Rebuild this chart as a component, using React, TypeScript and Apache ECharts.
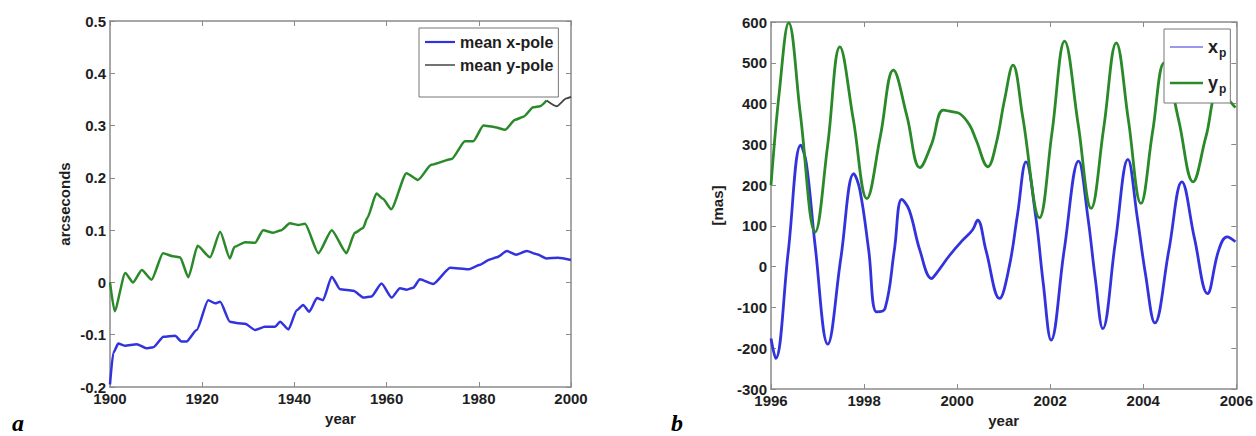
import React, { useEffect, useRef } from "react";
import * as echarts from "echarts";

// ---- Panel a: mean pole 1900-2000 (arcseconds) ----
const xPoleYears = [1900, 1900.7, 1901.8, 1903.2, 1905.8, 1907.9, 1909.4, 1911.6, 1914.1, 1915.5, 1916.6, 1918.8, 1921.3, 1922.8, 1923.9, 1926, 1927.8, 1929.3, 1931.5, 1933.6, 1935.8, 1936.9, 1938.7, 1940.5, 1941.9, 1943.2, 1944.9, 1946.2, 1948.1, 1949.9, 1952.8, 1955, 1956.7, 1958.9, 1961.1, 1962.9, 1964.4, 1965.8, 1967.2, 1970.1, 1973.8, 1977.7, 1980.3, 1982.4, 1983.9, 1986.1, 1988.1, 1990.4, 1992.6, 1994.7, 1997.2, 2000];
const xPoleValues = [-0.195, -0.135, -0.117, -0.121, -0.118, -0.126, -0.124, -0.104, -0.102, -0.113, -0.113, -0.091, -0.034, -0.04, -0.037, -0.075, -0.078, -0.079, -0.091, -0.085, -0.085, -0.075, -0.09, -0.053, -0.043, -0.056, -0.03, -0.034, 0.011, -0.013, -0.016, -0.029, -0.027, -0.002, -0.029, -0.011, -0.014, -0.01, 0.006, -0.003, 0.028, 0.025, 0.034, 0.044, 0.048, 0.06, 0.053, 0.06, 0.054, 0.046, 0.047, 0.043];

const yPoleYears = [1900, 1901, 1903.3, 1905, 1906.9, 1909, 1911.5, 1913.7, 1915.2, 1917, 1919, 1921.7, 1923.9, 1926, 1927, 1929.3, 1931.5, 1933.2, 1935.4, 1937.2, 1939, 1940.8, 1942.3, 1945.2, 1948.1, 1951.3, 1953.1, 1954.9, 1955.8, 1957.8, 1959.2, 1961, 1964.3, 1966.8, 1969.7, 1974.1, 1977, 1978.8, 1981, 1983.5, 1985.7, 1987.9, 1989.7, 1991.8, 1993.3, 1994.7];
const yPoleValues = [0.0, -0.055, 0.018, 0.0, 0.024, 0.005, 0.056, 0.05, 0.048, 0.01, 0.07, 0.048, 0.097, 0.046, 0.068, 0.077, 0.076, 0.1, 0.095, 0.1, 0.113, 0.11, 0.112, 0.056, 0.1, 0.056, 0.095, 0.104, 0.123, 0.17, 0.16, 0.14, 0.209, 0.196, 0.225, 0.236, 0.27, 0.27, 0.3, 0.297, 0.292, 0.311, 0.317, 0.335, 0.337, 0.348];
const yPoleTailYears = [1994.7, 1996.9, 1999, 2000];
const yPoleTailValues = [0.348, 0.337, 0.352, 0.355];

// ---- Panel b: polar motion 1996-2006 (mas) ----
const xpYears = [1996.0, 1996.1, 1996.37, 1996.64, 1996.76, 1996.95, 1997.22, 1997.5, 1997.78, 1997.91, 1998.1, 1998.27, 1998.45, 1998.65, 1998.81, 1998.97, 1999.2, 1999.45, 1999.55, 1999.84, 2000.12, 2000.33, 2000.44, 2000.62, 2000.91, 2001.12, 2001.3, 2001.48, 2001.69, 2001.85, 2002.02, 2002.3, 2002.61, 2002.81, 2002.97, 2003.13, 2003.4, 2003.67, 2003.87, 2004.05, 2004.25, 2004.55, 2004.83, 2005.1, 2005.38, 2005.62, 2005.8, 2005.98];
const xpValues = [-176, -225, 36, 298, 253, 50, -190, 20, 228, 188, 40, -111, -103, 40, 165, 139, 40, -29, -17, 28, 65, 90, 114, 40, -78, 0, 130, 257, 122, -40, -180, 40, 259, 121, -30, -152, 60, 263, 122, -20, -138, 40, 208, 70, -66, 40, 73, 61];

const ypYears = [1996.0, 1996.18, 1996.38, 1996.63, 1996.95, 1997.22, 1997.48, 1997.77, 1998.06, 1998.35, 1998.63, 1998.92, 1999.2, 1999.45, 1999.7, 1999.88, 2000.06, 2000.27, 2000.41, 2000.66, 2000.84, 2001.02, 2001.2, 2001.41, 2001.77, 2002.04, 2002.31, 2002.6, 2002.88, 2003.15, 2003.42, 2003.68, 2003.95, 2004.2, 2004.45, 2004.76, 2005.07, 2005.35, 2005.62, 2005.98];
const ypValues = [200, 430, 598, 375, 85, 300, 539, 360, 167, 320, 482, 370, 243, 300, 384, 380, 375, 347, 310, 245, 302, 410, 494, 367, 120, 330, 553, 350, 143, 340, 549, 360, 155, 330, 500, 360, 208, 320, 428, 390];

const zip = (xs: number[], ys: number[]) => xs.map((x, i) => [x, ys[i]]);

const BLUE = "#3333dd";
const GREEN = "#2a8a2a";
const AXIS = "#8a8a8a";
const TXT = "#1e1e1e";
const FONT = "'Liberation Sans', Arial, Helvetica, sans-serif";

const lineIcon = (w: number, h: number) => `path://M0,0H${w}V${h}H0Z`;

export default function App() {
  const ref = useRef<HTMLDivElement>(null);
  useEffect(() => {
    document.body.style.margin = "0";
    const chart = echarts.init(ref.current!, null, { renderer: "svg" });
    const label = { color: TXT, fontFamily: FONT, fontWeight: "bold" as const, fontSize: 15 };
    const baseAxis = (gi: number, min: number, max: number, interval: number) => ({
      type: "value", gridIndex: gi, min, max, interval,
      axisLine: { show: true, onZero: false, lineStyle: { color: AXIS, width: 1.5 } },
      axisTick: { show: true, inside: true, length: 5, lineStyle: { color: AXIS } },
      splitLine: { show: false },
    });
    const fmtYear = (v: number) => String(Math.round(v));
    const option: any = {
      animation: false,
      backgroundColor: "#ffffff",
      grid: [
        { left: 110, top: 21, width: 461, height: 366 },
        { left: 771, top: 22, width: 466, height: 367 },
      ],
      xAxis: [
        { ...baseAxis(0, 1900, 2000, 20), position: "bottom", name: "year", nameLocation: "middle", nameGap: 22,
          nameTextStyle: { ...label }, axisLabel: { ...label, margin: 4, formatter: fmtYear } },
        { ...baseAxis(0, 1900, 2000, 20), position: "top", axisLabel: { show: false } },
        { ...baseAxis(1, 1996, 2006, 2), position: "bottom", name: "year", nameLocation: "middle", nameGap: 22,
          nameTextStyle: { ...label }, axisLabel: { ...label, margin: 4, formatter: fmtYear } },
        { ...baseAxis(1, 1996, 2006, 2), position: "top", axisLabel: { show: false } },
      ],
      yAxis: [
        { ...baseAxis(0, -0.2, 0.5, 0.1), position: "left", name: "arcseconds", nameLocation: "middle", nameGap: 38,
          nameTextStyle: { ...label },
          axisLabel: { ...label, margin: 4, formatter: (v: number) => String(Math.round(v * 10) / 10) } },
        { ...baseAxis(0, -0.2, 0.5, 0.1), position: "right", axisLabel: { show: false } },
        { ...baseAxis(1, -300, 600, 100), position: "left", name: "[mas]", nameLocation: "middle", nameGap: 46,
          nameTextStyle: { ...label }, axisLabel: { ...label, margin: 4, formatter: (v: number) => String(v) } },
        { ...baseAxis(1, -300, 600, 100), position: "right", axisLabel: { show: false } },
      ],
      legend: [
        {
          left: 419, top: 28, orient: "vertical",
          backgroundColor: "#fff", borderColor: "#777", borderWidth: 1,
          padding: [6, 5, 24, 6], itemWidth: 30, itemHeight: 14, itemGap: 7,
          symbolKeepAspect: true,
          textStyle: { color: TXT, fontFamily: FONT, fontWeight: "bold", fontSize: 16 },
          data: [
            { name: "mean x-pole", icon: lineIcon(30, 2.2), itemStyle: { color: BLUE } },
            { name: "mean y-pole", icon: lineIcon(30, 1.5), itemStyle: { color: "#444" } },
          ],
          selectedMode: false,
        },
        {
          left: 1164, top: 29, orient: "vertical",
          backgroundColor: "#fff", borderColor: "#777", borderWidth: 1,
          padding: [6, 4, 8, 6], itemWidth: 33, itemHeight: 16, itemGap: 12,
          symbolKeepAspect: true,
          textStyle: {
            color: TXT, fontFamily: FONT, fontWeight: "bold", fontSize: 17,
            rich: {
              b: { color: TXT, fontFamily: FONT, fontWeight: "bold", fontSize: 18, lineHeight: 18 },
              s: { color: TXT, fontFamily: FONT, fontWeight: "bold", fontSize: 12, lineHeight: 12, padding: [12, 0, 0, 1] },
            },
          },
          formatter: (n: string) => (n === "xp" ? "{b|x}{s|p}" : "{b|y}{s|p}"),
          data: [
            { name: "xp", icon: lineIcon(33, 1.2), itemStyle: { color: BLUE } },
            { name: "yp", icon: lineIcon(33, 2.5), itemStyle: { color: GREEN } },
          ],
          selectedMode: false,
        },
      ],
      graphic: [
        { type: "text", left: 12, top: 411, style: { text: "a", font: "italic bold 24px 'Liberation Serif', 'Times New Roman', serif", fill: "#000" } },
        { type: "text", left: 671, top: 411, style: { text: "b", font: "italic bold 24px 'Liberation Serif', 'Times New Roman', serif", fill: "#000" } },
      ],
      series: [
        { name: "mean x-pole", type: "line", xAxisIndex: 0, yAxisIndex: 0, data: zip(xPoleYears, xPoleValues),
          showSymbol: false, symbol: "none", smooth: 0.2, smoothMonotone: "x", lineStyle: { color: BLUE, width: 2.5 }, itemStyle: { color: BLUE } },
        { name: "ygreen", type: "line", xAxisIndex: 0, yAxisIndex: 0, data: zip(yPoleYears, yPoleValues),
          showSymbol: false, symbol: "none", smooth: 0.2, smoothMonotone: "x", lineStyle: { color: GREEN, width: 2.5 }, itemStyle: { color: GREEN } },
        { name: "mean y-pole", type: "line", xAxisIndex: 0, yAxisIndex: 0, data: zip(yPoleTailYears, yPoleTailValues),
          showSymbol: false, symbol: "none", smooth: 0.2, smoothMonotone: "x", lineStyle: { color: "#444", width: 1.8 }, itemStyle: { color: "#444" } },
        { name: "xp", type: "line", xAxisIndex: 2, yAxisIndex: 2, data: zip(xpYears, xpValues),
          showSymbol: false, symbol: "none", smooth: 0.4, lineStyle: { color: BLUE, width: 2.8 }, itemStyle: { color: BLUE } },
        { name: "yp", type: "line", xAxisIndex: 2, yAxisIndex: 2, data: zip(ypYears, ypValues),
          showSymbol: false, symbol: "none", smooth: 0.4, lineStyle: { color: GREEN, width: 2.8 }, itemStyle: { color: GREEN } },
      ],
    };
    chart.setOption(option);
    return () => chart.dispose();
  }, []);
  return <div ref={ref} style={{ position: "fixed", left: 0, top: 0, width: 1256, height: 436 }} />;
}
